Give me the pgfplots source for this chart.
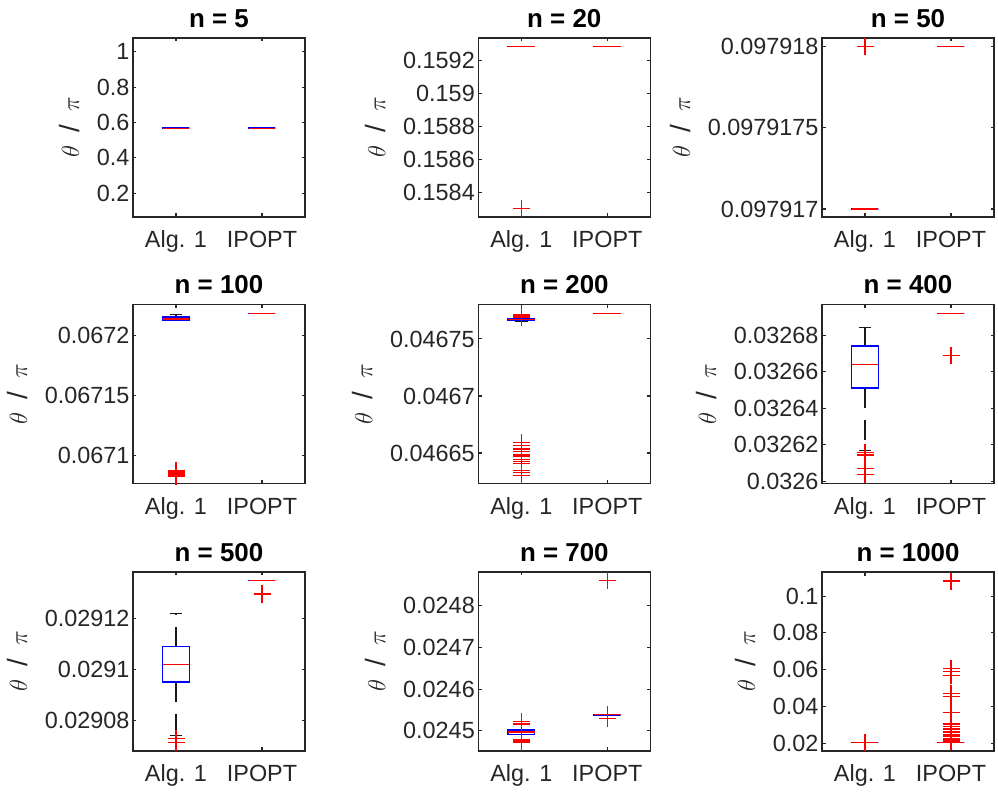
\documentclass[border=0pt]{standalone}
\usepackage{pgfplots}
\pgfplotsset{compat=1.18}
\usepackage{fontspec}
\setmainfont{Liberation Sans}

\pgfplotsset{
  whisk/.style={black!90, line width=1.1bp, dash pattern=on 20bp off 12bp},
  capl/.style={black!90, line width=1.1bp},
  bx/.style={blue, line width=1.5bp, line cap=rect},
  md/.style={red, line width=1.2bp},
  outl/.style={only marks, mark=+, mark size=8.5bp, red, mark options={line width=1.1bp, solid}},
  % shift/scale y values with full precision so that tiny ranges plot correctly
  offs/.style 2 args={y coord trafo/.code={%
      \pgfmathfloatparsenumber{##1}\pgfmathfloattosci{\pgfmathresult}%
      \edef\pgfmathresult{\fpeval{(\pgfmathresult-#1)*#2}}}},
  mx/.style={
    scale only axis, width=172bp, height=179bp, anchor=south west,
    xmin=0.5, xmax=2.5, xtick={1,2}, xticklabels={Alg. 1, IPOPT},
    axis line style={black!85, line width=1.1bp},
    every tick/.style={black!85, line width=1.1bp},
    major tick length=3.5bp, tick align=inside,
    tick label style={font=\fontsize{23.5}{28}\selectfont, text=black!85},
    xticklabel style={anchor=base, yshift=-31bp},
    ylabel={$\theta$\hspace{13bp}/\hspace{13bp}$\pi$},
    ylabel style={font=\fontsize{28}{33}\selectfont, text=black!85, inner sep=14bp},
    title style={font=\bfseries\fontsize{26}{31}\selectfont, at={(0.5,1)}, anchor=base, yshift=4.6bp, inner sep=0pt},
    scaled y ticks=false,
  },
}

% box at position 1: lower whisker, q1, median, q3, upper whisker
\newcommand{\boxA}[5]{%
  \addplot[whisk] coordinates {(1,#2) (1,#1)};
  \addplot[whisk] coordinates {(1,#4) (1,#5)};
  \addplot[capl] coordinates {(0.925,#1) (1.075,#1)};
  \addplot[capl] coordinates {(0.925,#5) (1.075,#5)};
  \addplot[bx] coordinates {(0.845,#2) (1.155,#2) (1.155,#4) (0.845,#4) (0.845,#2)};
  \addplot[md] coordinates {(0.845,#3) (1.155,#3)};
}
% box at position 2
\newcommand{\boxB}[5]{%
  \addplot[whisk] coordinates {(2,#2) (2,#1)};
  \addplot[whisk] coordinates {(2,#4) (2,#5)};
  \addplot[capl] coordinates {(1.925,#1) (2.075,#1)};
  \addplot[capl] coordinates {(1.925,#5) (2.075,#5)};
  \addplot[bx] coordinates {(1.845,#2) (2.155,#2) (2.155,#4) (1.845,#4) (1.845,#2)};
  \addplot[md] coordinates {(1.845,#3) (2.155,#3)};
}

\begin{document}
\begin{tikzpicture}
\path[use as bounding box] (0,0) rectangle (998bp,793bp);

% ---------- n = 5
\begin{axis}[mx, at={(133bp,576bp)}, title={n = 5},
  ymin=0.0648, ymax=1.0789,
  ytick={0.2,0.4,0.6,0.8,1}, yticklabels={0.2,0.4,0.6,0.8,1}]
\boxA{0.568}{0.568}{0.568}{0.568}{0.568}
\boxB{0.568}{0.568}{0.568}{0.568}{0.568}
\end{axis}

% ---------- n = 20
\begin{axis}[mx, at={(478.3bp,576bp)}, title={n = 20}, offs={0.158}{1e4},
  ymin=0.1582507, ymax=0.1593348,
  ytick={0.1584,0.1586,0.1588,0.159,0.1592}, yticklabels={0.1584,0.1586,0.1588,0.159,0.1592}]
\boxA{0.1592828}{0.1592828}{0.1592828}{0.1592828}{0.1592828}
\addplot[outl] coordinates {(1,0.1583008)};
\boxB{0.1592828}{0.1592828}{0.1592828}{0.1592828}{0.1592828}
\end{axis}

% ---------- n = 50
\begin{axis}[mx, at={(822bp,576bp)}, title={n = 50}, offs={0.097917}{1e7},
  ymin=0.097916951, ymax=0.097918052,
  ytick={0.097917,0.0979175,0.097918}, yticklabels={0.097917,0.0979175,0.097918}]
\boxA{0.097917}{0.097917}{0.097917}{0.097917}{0.097917}
\addplot[outl] coordinates {(1,0.097918)};
\boxB{0.097918}{0.097918}{0.097918}{0.097918}{0.097918}
\end{axis}

% ---------- n = 100
\begin{axis}[mx, at={(133bp,309.5bp)}, title={n = 100}, offs={0.0671}{1e5},
  ymin=0.067077, ymax=0.0672256,
  ytick={0.0671,0.06715,0.0672}, yticklabels={0.0671,0.06715,0.0672}]
\boxA{0.0672128}{0.0672128}{0.0672136}{0.0672153}{0.0672175}
\addplot[outl] coordinates {(1,0.0670880) (1,0.0670872) (1,0.0670865) (1,0.0670858) (1,0.0670850) (1,0.0670843) (1,0.0670835) (1,0.0670828)};
\boxB{0.0672183}{0.0672183}{0.0672183}{0.0672183}{0.0672183}
\end{axis}

% ---------- n = 200
\begin{axis}[mx, at={(478.3bp,309.5bp)}, title={n = 200}, offs={0.04665}{1e5},
  ymin=0.0466233, ymax=0.0467802,
  ytick={0.04665,0.0467,0.04675}, yticklabels={0.04665,0.0467,0.04675}]
\boxA{0.0467655}{0.0467665}{0.0467670}{0.0467674}{0.0467680}
\addplot[outl] coordinates {(1,0.0467712) (1,0.0467705) (1,0.0467698) (1,0.0467692)
  (1,0.0466591) (1,0.0466564) (1,0.0466535) (1,0.0466512) (1,0.0466491) (1,0.0466474)
  (1,0.0466447) (1,0.0466424) (1,0.0466409) (1,0.0466348) (1,0.0466330) (1,0.0466306)};
\boxB{0.0467725}{0.0467725}{0.0467725}{0.0467725}{0.0467725}
\end{axis}

% ---------- n = 400
\begin{axis}[mx, at={(822bp,309.5bp)}, title={n = 400}, offs={0.0326}{1e5},
  ymin=0.0325989, ymax=0.0326968,
  ytick={0.0326,0.03262,0.03264,0.03266,0.03268}, yticklabels={0.0326,0.03262,0.03264,0.03266,0.03268}]
\boxA{0.032617}{0.032651}{0.032664}{0.032674}{0.032684}
\addplot[outl] coordinates {(1,0.0326160) (1,0.0326150) (1,0.0326145) (1,0.0326069) (1,0.0326036)};
\boxB{0.032692}{0.032692}{0.032692}{0.032692}{0.032692}
\addplot[outl] coordinates {(2,0.032669)};
\end{axis}

% ---------- n = 500
\begin{axis}[mx, at={(133bp,42bp)}, title={n = 500}, offs={0.02908}{1e5},
  ymin=0.02906803, ymax=0.02913842,
  ytick={0.02908,0.0291,0.02912}, yticklabels={0.02908,0.0291,0.02912}]
\boxA{0.02907408}{0.02909513}{0.02910211}{0.02910908}{0.02912197}
\addplot[outl] coordinates {(1,0.02907303) (1,0.02907145)};
\boxB{0.0291351}{0.0291351}{0.0291351}{0.0291351}{0.0291351}
\addplot[outl] coordinates {(2,0.0291300) (2,0.0291297)};
\end{axis}

% ---------- n = 700
\begin{axis}[mx, at={(478.3bp,42bp)}, title={n = 700}, offs={0.0245}{1e4},
  ymin=0.024452, ymax=0.02488,
  ytick={0.0245,0.0246,0.0247,0.0248}, yticklabels={0.0245,0.0246,0.0247,0.0248}]
\boxA{0.024491}{0.024492}{0.0244976}{0.0245024}{0.024503}
\addplot[outl] coordinates {(1,0.0245224) (1,0.0245184) (1,0.0245144) (1,0.0244784) (1,0.024476) (1,0.024472)};
\boxB{0.0245384}{0.0245384}{0.0245384}{0.0245384}{0.0245384}
\addplot[outl] coordinates {(2,0.0245384) (2,0.0245304) (2,0.02486)};
\end{axis}

% ---------- n = 1000
\begin{axis}[mx, at={(822bp,42bp)}, title={n = 1000},
  ymin=0.01582, ymax=0.1131,
  ytick={0.02,0.04,0.06,0.08,0.1}, yticklabels={0.02,0.04,0.06,0.08,0.1}]
\boxA{0.0204}{0.0204}{0.0204}{0.0204}{0.0204}
\addplot[outl] coordinates {(1,0.0206)};
\boxB{0.0204}{0.0204}{0.0204}{0.0204}{0.0204}
\addplot[outl] coordinates {(2,0.1082) (2,0.0609) (2,0.0591) (2,0.0567) (2,0.0473) (2,0.0455) (2,0.0367)
  (2,0.0309) (2,0.0300) (2,0.0291) (2,0.0282) (2,0.0273) (2,0.0265) (2,0.0258) (2,0.0245)
  (2,0.0236) (2,0.0227) (2,0.0218) (2,0.0209)};
\end{axis}
\end{tikzpicture}
\end{document}
